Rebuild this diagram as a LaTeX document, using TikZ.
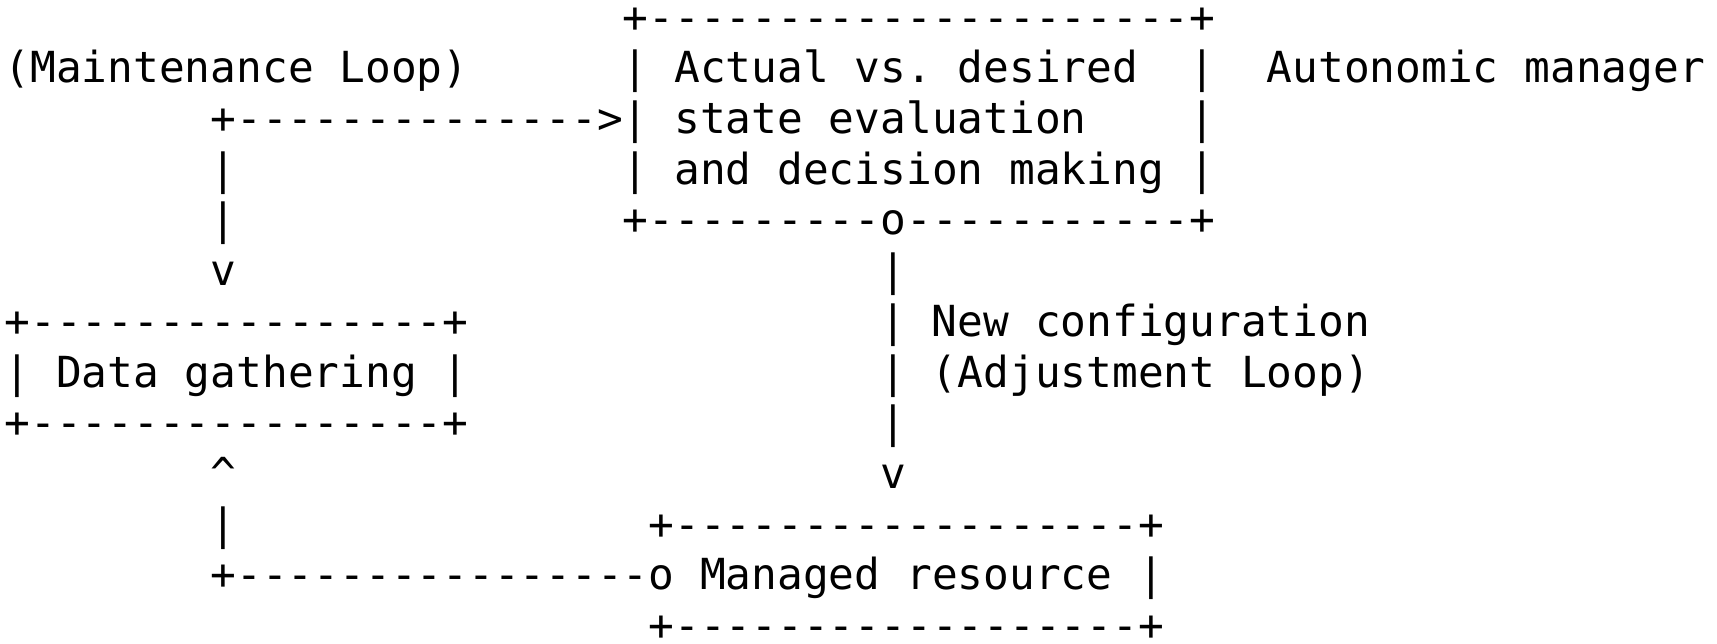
\documentclass[tikz,border=0pt]{standalone}
\usepackage{fontspec}
\setmonofont{DejaVu Sans Mono}
\newcommand\seg[4]{\node[seg] (#1) at ({2.3pt+#2*12.88pt},{-16.0pt-(#3-1)*25.36pt}) {#4};}
\begin{document}
\begin{tikzpicture}[seg/.style={anchor=base west, inner sep=0pt, outer sep=0pt, font=\ttfamily\fontsize{21.4}{25}\selectfont}]
\useasboundingbox (0,0) rectangle (858.5pt,-321.5pt);
\frenchspacing
% decision box (rows 1-5)
\seg{decT}{24}{1}{+---------------------+}
\seg{mlabel}{0}{2}{(Maintenance Loop)}
\seg{decL2}{24}{2}{|}
\seg{decTx1}{26}{2}{Actual vs. desired}
\seg{decR2}{46}{2}{|}
\seg{amlabel}{49}{2}{Autonomic manager}
\seg{mArrow}{8}{3}{+-------------->}
\seg{decL3}{24}{3}{|}
\seg{decTx2}{26}{3}{state evaluation}
\seg{decR3}{46}{3}{|}
\seg{mV4}{8}{4}{|}
\seg{decL4}{24}{4}{|}
\seg{decTx3}{26}{4}{and decision making}
\seg{decR4}{46}{4}{|}
\seg{mV5}{8}{5}{|}
\seg{decB}{24}{5}{+---------o-----------+}
\seg{mDown}{8}{6}{v}
\seg{aV6}{34}{6}{|}
% data gathering box (rows 7-9)
\seg{dgT}{0}{7}{+----------------+}
\seg{aV7}{34}{7}{|}
\seg{alabel1}{36}{7}{New configuration}
\seg{dgM}{0}{8}{| Data gathering |}
\seg{aV8}{34}{8}{|}
\seg{alabel2}{36}{8}{(Adjustment Loop)}
\seg{dgB}{0}{9}{+----------------+}
\seg{aV9}{34}{9}{|}
\seg{mUp}{8}{10}{\textasciicircum}
\seg{aDown}{34}{10}{v}
% managed resource box (rows 11-13)
\seg{mV11}{8}{11}{|}
\seg{mrT}{25}{11}{+------------------+}
\seg{mLine}{8}{12}{+----------------o}
\seg{mrM}{27}{12}{Managed resource |}
\seg{mrB}{25}{13}{+------------------+}
\end{tikzpicture}
\end{document}
